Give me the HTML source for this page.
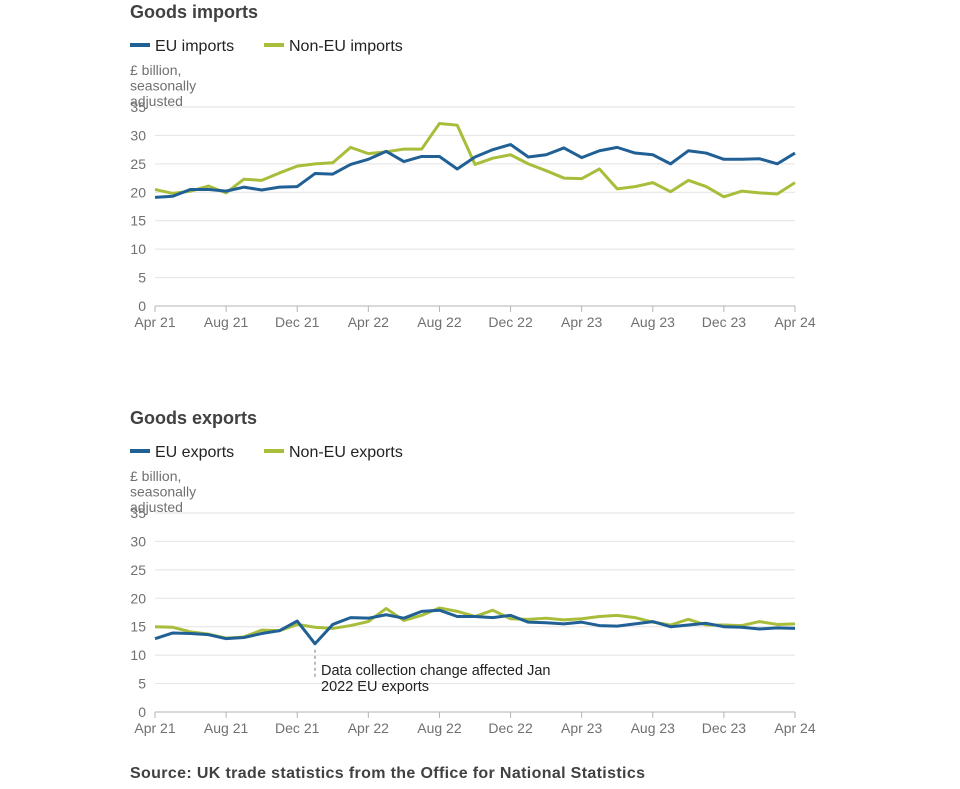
<!DOCTYPE html>
<html><head><meta charset="utf-8">
<style>
body{margin:0;background:#fff;font-family:"Liberation Sans",sans-serif;}
svg text{font-family:"Liberation Sans",sans-serif;}
</style></head>
<body>
<svg id="c" width="960" height="784"></svg>
<script>
const months=["Apr 21","Aug 21","Dec 21","Apr 22","Aug 22","Dec 22","Apr 23","Aug 23","Dec 23","Apr 24"];
const yTicks=[0,5,10,15,20,25,30,35];
const euImports=[19.1,19.3,20.5,20.5,20.2,20.9,20.4,20.9,21.0,23.3,23.2,24.9,25.8,27.2,25.4,26.3,26.3,24.1,26.2,27.5,28.4,26.2,26.6,27.8,26.1,27.3,27.9,26.9,26.6,25.0,27.3,26.9,25.8,25.8,25.9,25.0,26.9];
const nonEuImports=[20.5,19.8,20.2,21.1,19.9,22.3,22.1,23.4,24.6,25.0,25.2,27.9,26.8,27.1,27.6,27.6,32.1,31.8,24.9,26.0,26.6,25.0,23.8,22.5,22.4,24.1,20.6,21.0,21.7,20.1,22.1,21.0,19.2,20.2,19.9,19.7,21.7];
const euExports=[12.9,13.9,13.8,13.6,12.9,13.1,13.8,14.3,16.0,12.0,15.4,16.6,16.5,17.1,16.5,17.7,17.9,16.8,16.8,16.6,17.0,15.8,15.7,15.5,15.8,15.2,15.1,15.5,15.9,15.0,15.3,15.6,15.0,14.9,14.6,14.8,14.7];
const nonEuExports=[15.0,14.9,14.1,13.7,13.0,13.2,14.4,14.3,15.4,14.9,14.7,15.2,15.9,18.2,16.1,17.0,18.3,17.7,16.8,17.9,16.4,16.3,16.5,16.2,16.4,16.8,17.0,16.6,15.8,15.3,16.3,15.3,15.3,15.2,15.9,15.4,15.5];

const NS="http://www.w3.org/2000/svg";
const svg=document.getElementById('c');
function el(t,a,txt){const e=document.createElementNS(NS,t);for(const k in a)e.setAttribute(k,a[k]);if(txt!==undefined)e.textContent=txt;svg.appendChild(e);return e;}
const X0=155,X1=795,N=36;
function x(i){return X0+(X1-X0)*i/N;}

function chart(top,title,n1,n2,key){
  const y0=top+293,y35=top+94;
  const y=v=>y0-(y0-y35)*v/35;
  let e=el('text',{x:130,y:top+5,'font-size':18,'font-weight':'bold',fill:'#414042'},title);
  
  [[n1,'#206095',130],[n2,'#a8bd3a',264]].forEach((l,k)=>{
    const lx=l[2];
    const r=el('rect',{x:lx,y:top+30,width:20,height:4,fill:l[1]});
    
    const t=el('text',{x:lx+25,y:top+38,'font-size':16,fill:'#222'},l[0]);
    
  });
  ["£ billion,","seasonally","adjusted"].forEach((s,k)=>{
    const t=el('text',{x:130,y:top+62+k*15.5,'font-size':14,fill:'#707071'},s);
    
  });
  yTicks.forEach(v=>{
    const g=el('line',{x1:X0,x2:X1,y1:y(v),y2:y(v),stroke:v==0?'#b3b3b3':'#e2e2e2','stroke-width':1});
    
    const t=el('text',{x:146,y:y(v)+5,'font-size':14,fill:'#707071','text-anchor':'end'},v);
    
  });
  months.forEach((m,k)=>{
    const tx=x(k*4);
    const tk=el('line',{x1:tx,x2:tx,y1:y0,y2:y0+6,stroke:'#b3b3b3'});
    
    const t=el('text',{x:tx,y:y0+21,'font-size':14,fill:'#707071','text-anchor':'middle'},m);
    
  });
  return y;
}
function line(arr,y,col,name){
  const p=el('polyline',{points:arr.map((v,i)=>x(i)+','+y(v)).join(' '),fill:'none',stroke:col,'stroke-width':3,'stroke-linejoin':'round'});
  
}
const yA=chart(13,'Goods imports','EU imports','Non-EU imports','imports');
line(nonEuImports,yA,'#a8bd3a','line-non-eu-imports');
line(euImports,yA,'#206095','line-eu-imports');
const yB=chart(419,'Goods exports','EU exports','Non-EU exports','exports');
const ax=x(9);
const an=el('line',{x1:ax,x2:ax,y1:yB(euExports[9])+6,y2:yB(6),stroke:'#bbb','stroke-width':2,'stroke-dasharray':'3,3'});

line(nonEuExports,yB,'#a8bd3a','line-non-eu-exports');
line(euExports,yB,'#206095','line-eu-exports');
["Data collection change affected Jan","2022 EU exports"].forEach((s,k)=>{
  const t=el('text',{x:321,y:675+k*16,'font-size':14.5,fill:'#222'},s);
  
});
const src=el('text',{x:130,y:778,'font-size':16,'font-weight':'bold',fill:'#414042',textLength:515,lengthAdjust:'spacing'},'Source: UK trade statistics from the Office for National Statistics');

</script>
</body></html>
